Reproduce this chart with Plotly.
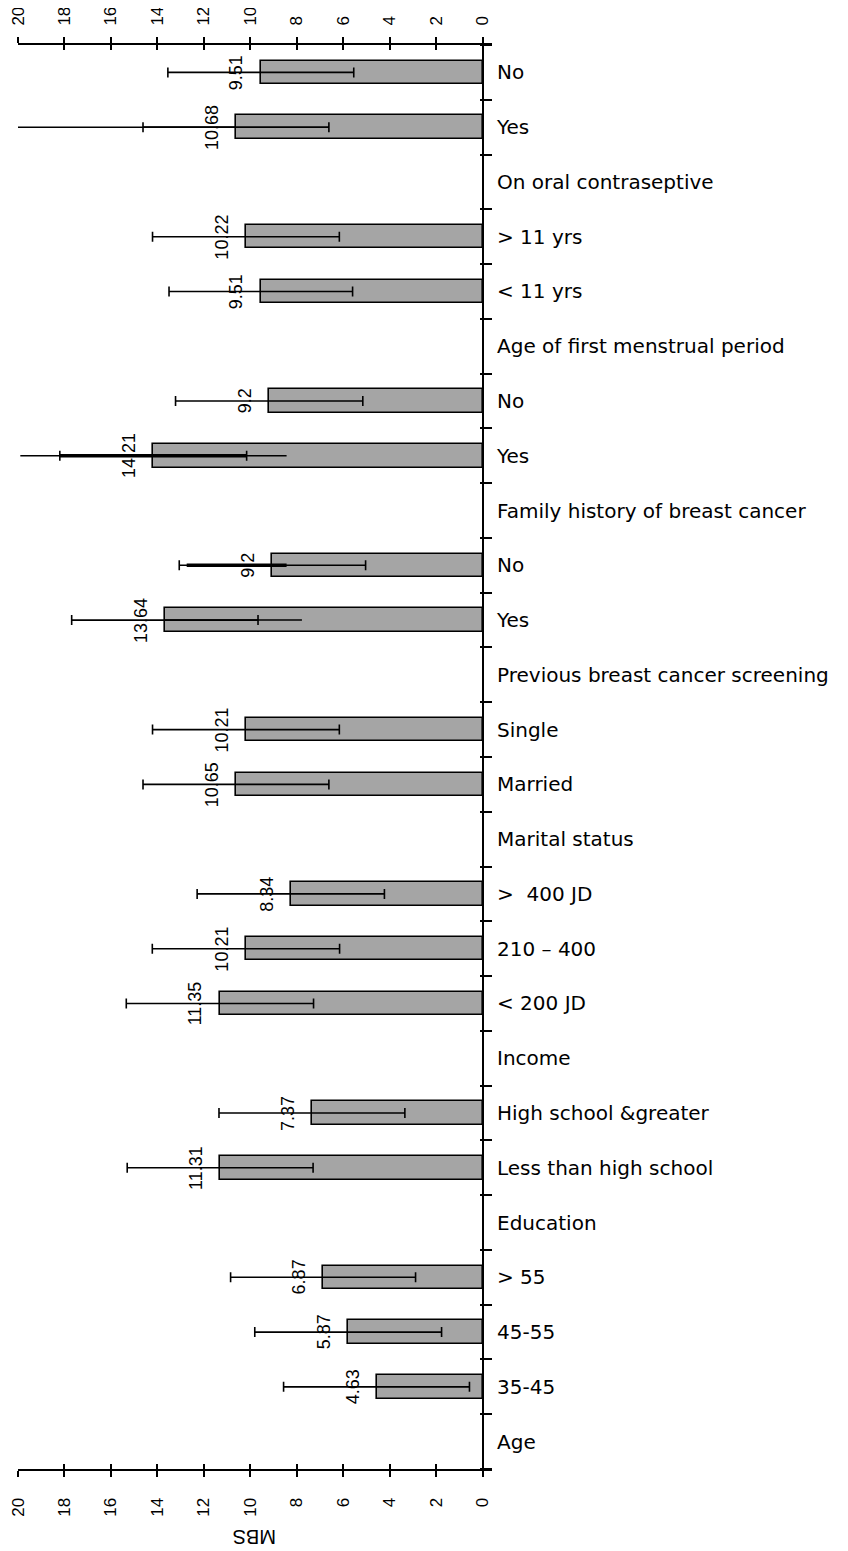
import plotly.graph_objects as go

# Rows from top to bottom
categories = ["No", "Yes", "On oral contraseptive", "> 11 yrs", "< 11 yrs",
              "Age of first menstrual period", "No", "Yes",
              "Family history of breast cancer", "No", "Yes",
              "Previous breast cancer screening", "Single", "Married",
              "Marital status", ">  400 JD", "210 \u2013 400", "< 200 JD", "Income",
              "High school &greater", "Less than high school", "Education",
              "> 55", "45-55", "35-45", "Age"]

# MBS bar values (None = group heading row)
values = [9.55, 10.62, None, 10.19, 9.55, None, 9.19, 14.18, None, 9.05, 13.68,
          None, 10.19, 10.62, None, 8.26, 10.19, 11.31, None, 7.35, 11.30, None,
          6.87, 5.79, 4.57, None]
value_labels = ["9.51", "10.68", None, "10.22", "9.51", None, "9.2", "14.21", None,
                "9.2", "13.64", None, "10.21", "10.65", None, "8.34", "10.21",
                "11.35", None, "7.37", "11.31", None, "6.87", "5.87", "4.63", None]
errors = [4.0, 4.0, None, 4.02, 3.95, None, 4.03, 4.02, None, 4.01, 4.01, None,
          4.02, 4.0, None, 4.03, 4.03, 4.03, None, 4.0, 4.0, None,
          3.98, 4.02, 4.0, None]

# extra overlapping error lines seen in the picture
thin_plus = [None, 9.4, None, None, None, None, None, 5.72, None, None, 0.0, None,
             None, None, None, None, None, None, None, None, None, None, None, None, None, None]
thin_minus = [None, 0.0, None, None, None, None, None, 5.74, None, None, 5.9, None,
              None, None, None, None, None, None, None, None, None, None, None, None, None, None]
thick_plus = [None, None, None, None, None, None, None, 4.02, None, 3.69, None, None,
              None, None, None, None, None, None, None, None, None, None, None, None, None, None]
thick_minus = [None, None, None, None, None, None, None, 4.02, None, 0.61, None, None,
               None, None, None, None, None, None, None, None, None, None, None, None, None, None]

x_ticks = list(range(0, 21, 2))

rows = list(range(len(categories)))
FONT = "Liberation Sans, Arial, sans-serif"

fig = go.Figure()

bar_rows = [r for r in rows if values[r] is not None]
fig.add_trace(go.Bar(
    x=[values[r] for r in bar_rows], y=bar_rows, orientation="h",
    width=0.43,
    marker=dict(color="#a5a5a5", line=dict(color="black", width=1.6)),
    error_x=dict(type="data", array=[errors[r] for r in bar_rows], symmetric=True,
                 color="black", thickness=1.6, width=5),
    hoverinfo="skip", showlegend=False))

thin_rows = [r for r in rows if thin_plus[r] is not None]
fig.add_trace(go.Scatter(
    x=[values[r] for r in thin_rows], y=thin_rows, mode="markers",
    marker=dict(size=1, opacity=0),
    error_x=dict(type="data", array=[thin_plus[r] for r in thin_rows],
                 arrayminus=[thin_minus[r] for r in thin_rows], symmetric=False,
                 color="black", thickness=1.5, width=0),
    xaxis="x2", hoverinfo="skip", showlegend=False))

thick_rows = [r for r in rows if thick_plus[r] is not None]
fig.add_trace(go.Scatter(
    x=[values[r] for r in thick_rows], y=thick_rows, mode="markers",
    marker=dict(size=1, opacity=0),
    error_x=dict(type="data", array=[thick_plus[r] for r in thick_rows],
                 arrayminus=[thick_minus[r] for r in thick_rows], symmetric=False,
                 color="black", thickness=3.5, width=0),
    xaxis="x2", hoverinfo="skip", showlegend=False))

# dummy traces to activate the extra tick axes
for ax in ["x3", "x4"]:
    fig.add_trace(go.Scatter(x=[values[0]], y=[0], mode="markers",
                             marker=dict(size=1, opacity=0), xaxis=ax,
                             hoverinfo="skip", showlegend=False))

for r in bar_rows:
    fig.add_annotation(x=values[r], y=r, xref="x", yref="y", text=value_labels[r],
                       textangle=-90, showarrow=False, xanchor="center", yanchor="middle",
                       xshift=-24, font=dict(family=FONT, size=18, color="black"))

fig.add_annotation(x=0.5, y=0, xref="x domain", yref="paper", yshift=-68,
                   yanchor="middle", text="MBS", textangle=180, showarrow=False,
                   font=dict(family=FONT, size=20, color="black"))

xr = [20, -0.4]
common_x = dict(range=xr, tickmode="array", tickvals=x_ticks, showgrid=False,
                automargin=False,
                tickfont=dict(family=FONT, size=17, color="black"))

fig.update_layout(
    width=840, height=1543,
    margin=dict(l=10, r=356, t=37, b=82, autoexpand=False),
    plot_bgcolor="white", paper_bgcolor="white",
    bargap=0,
    xaxis=dict(**common_x, side="bottom", anchor="y", showline=True, linecolor="black",
               linewidth=2, ticks="outside", ticklen=6, tickwidth=1.6, tickcolor="black",
               tickangle=-90, ticklabelstandoff=14,
               zeroline=True, zerolinecolor="black", zerolinewidth=2),
    xaxis2=dict(**common_x, side="top", overlaying="x", anchor="y", matches="x",
                showline=True, linecolor="black", linewidth=2, ticks="outside", ticklen=6,
                tickwidth=1.6, tickcolor="black", tickangle=-90, ticklabelstandoff=8,
                zeroline=False),
    xaxis3=dict(range=xr, side="bottom", overlaying="x", anchor="y", matches="x",
                tickmode="array", tickvals=x_ticks, ticks="inside", ticklen=5,
                tickwidth=1.6, tickcolor="black", showticklabels=False, automargin=False,
                showgrid=False, zeroline=False),
    xaxis4=dict(range=xr, side="top", overlaying="x", anchor="y", matches="x",
                tickmode="array", tickvals=x_ticks, ticks="inside", ticklen=5,
                tickwidth=1.6, tickcolor="black", showticklabels=False, automargin=False,
                showgrid=False, zeroline=False),
    yaxis=dict(range=[len(categories) - 0.5, -0.5], side="right", tickmode="array",
               tickvals=rows, ticktext=categories, ticks="", showline=False,
               showgrid=False, zeroline=False, ticklabelstandoff=4, automargin=False,
               tickfont=dict(family="DejaVu Sans, sans-serif", size=20, color="black"),
               minor=dict(tickmode="array", tickvals=[r - 0.5 for r in rows] + [len(rows) - 0.5],
                          ticks="inside", ticklen=12, tickwidth=1.6, tickcolor="black",
                          showgrid=False)),
)

fig.write_html("out.html")
